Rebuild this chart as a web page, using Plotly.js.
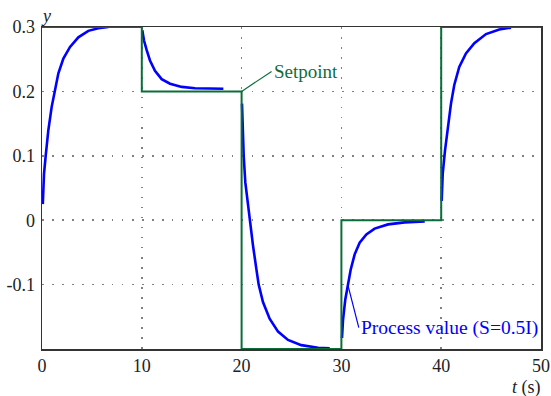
<!DOCTYPE html>
<html>
<head>
<meta charset="utf-8">
<script src="https://cdn.plot.ly/plotly-3.0.1.min.js"></script>
<style>html,body{margin:0;padding:0;background:#fff;}#chart{width:551px;height:396px;}</style>
</head>
<body>
<div id="chart"></div>
<script>
// Setpoint (step changes, held until next time)
const spT = [0, 10, 20, 30, 40, 50];
const spY = [0.3, 0.2, -0.2, 0, 0.3, 0.3];

// Process value segments
const pv1T = [0.08, 0.2, 0.37, 0.63, 0.97, 1.30, 1.64, 2.14, 2.81, 3.64, 4.64, 5.64, 6.65];
const pv1Y = [0.025, 0.072, 0.1, 0.139, 0.176, 0.2, 0.228, 0.251, 0.269, 0.284, 0.294, 0.298, 0.3];
const pv2T = [10.05, 10.22, 10.49, 10.82, 11.32, 11.99, 12.83, 14.0, 15.33, 18.17];
const pv2Y = [0.295, 0.279, 0.264, 0.248, 0.232, 0.219, 0.212, 0.207, 0.205, 0.204];
const pv3T = [20.04, 20.1, 20.21, 20.37, 20.64, 20.84, 21.14, 21.48, 21.71, 22.14, 22.81, 23.65, 24.65, 25.98, 27.66, 28.83];
const pv3Y = [0.181, 0.148, 0.1, 0.059, 0.023, 0, -0.039, -0.076, -0.1, -0.127, -0.153, -0.173, -0.186, -0.194, -0.198, -0.199];
const pv4T = [30.06, 30.16, 30.39, 30.66, 30.93, 31.33, 31.83, 32.5, 33.33, 34.67, 36.34, 38.35];
const pv4Y = [-0.183, -0.155, -0.123, -0.1, -0.077, -0.053, -0.035, -0.022, -0.013, -0.0065, -0.0034, -0.002];
const pv5T = [40.05, 40.15, 40.38, 40.65, 40.98, 41.31, 41.81, 42.48, 43.32, 44.49, 45.82, 46.99];
const pv5Y = [0.030, 0.072, 0.108, 0.145, 0.181, 0.21, 0.238, 0.259, 0.275, 0.289, 0.296, 0.299];

const xTicks = [0, 10, 20, 30, 40, 50];
const xTickText = ["0", "10", "20", "30", "40", "50"];
const yTicks = [-0.1, 0, 0.1, 0.2, 0.3];
const yTickText = ["-0.1", "0", "0.1", "0.2", "0.3"];

const labelSetpoint = "Setpoint";
const labelPV = "Process value (S=0.5I)";

const segsT = [pv1T, pv2T, pv3T, pv4T, pv5T];
const segsY = [pv1Y, pv2Y, pv3Y, pv4Y, pv5Y];
let pvT = [], pvY = [];
segsT.forEach((s, i) => { pvT = pvT.concat(s, [null]); pvY = pvY.concat(segsY[i], [null]); });

const green = '#0b6e3a';
const blue = '#0000ff';
const fnt = "Liberation Serif";

const traces = [
  {x: pvT, y: pvY, mode: 'lines', line: {color: blue, width: 2.6}, connectgaps: false, hoverinfo: 'skip'},
  {x: spT, y: spY, mode: 'lines', line: {color: green, width: 2, shape: 'hv'}, hoverinfo: 'skip'}
];

const layout = {
  width: 551, height: 396,
  margin: {l: 42, r: 10, t: 27, b: 47},
  paper_bgcolor: '#fff', plot_bgcolor: '#fff',
  showlegend: false,
  font: {family: fnt, size: 18, color: '#222'},
  xaxis: {
    range: [0, 50], tickvals: xTicks, ticktext: xTickText,
    tickfont: {family: fnt, size: 18, color: '#222'},
    showgrid: true, gridcolor: '#808080', gridwidth: 1.5, griddash: '1.5px,8.5px',
    zeroline: false, showline: true, linecolor: '#333', linewidth: 1.5, mirror: true,
    ticks: '', ticklabelstandoff: 0
  },
  yaxis: {
    range: [-0.2, 0.3], tickvals: yTicks, ticktext: yTickText,
    tickfont: {family: fnt, size: 18, color: '#222'},
    showgrid: true, gridcolor: '#808080', gridwidth: 1.5, griddash: '1.5px,8.5px',
    zeroline: false, showline: true, linecolor: '#333', linewidth: 1.5, mirror: true,
    ticks: '', ticklabelstandoff: 2
  },
  annotations: [
    {x: 20, y: 0.2, xref: 'x', yref: 'y', text: labelSetpoint, showarrow: true, arrowhead: 0,
     arrowcolor: green, arrowwidth: 1.2, ax: 30, ay: -20, xanchor: 'left', yanchor: 'middle',
     font: {family: fnt, size: 19, color: green}},
    {x: 30.64, y: -0.1, xref: 'x', yref: 'y', text: labelPV, showarrow: true, arrowhead: 0,
     arrowcolor: blue, arrowwidth: 1.2, ax: 11, ay: 43, xanchor: 'left', yanchor: 'middle',
     font: {family: fnt, size: 19.5, color: blue}},
    {x: 0, y: 1, xref: 'paper', yref: 'paper', text: '<i>y</i>', showarrow: false,
     xanchor: 'left', yanchor: 'bottom', xshift: -3, yshift: -1,
     font: {family: fnt, size: 18, color: '#222'}},
    {x: 1, y: 0, xref: 'paper', yref: 'paper', text: '<i>t</i> (s)', showarrow: false,
     xanchor: 'right', yanchor: 'middle', yshift: -38, xshift: 2,
     font: {family: fnt, size: 18, color: '#222'}}
  ]
};

Plotly.newPlot('chart', traces, layout, {staticPlot: true, displayModeBar: false});
</script>
</body>
</html>
